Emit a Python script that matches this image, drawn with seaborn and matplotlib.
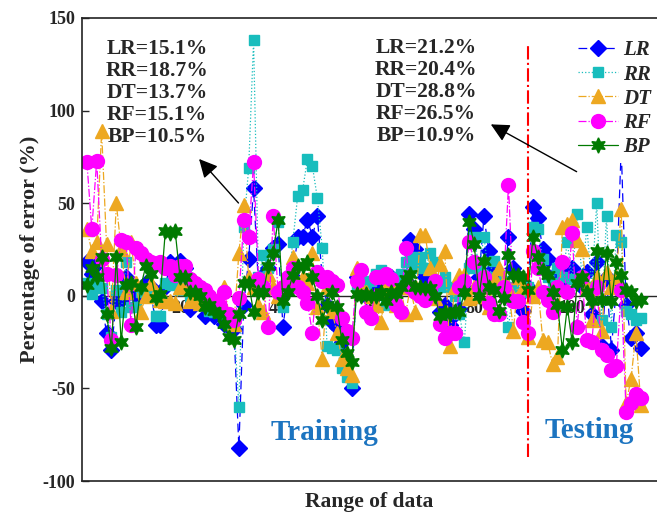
import numpy as np
import pandas as pd
import matplotlib
matplotlib.use("Agg")
import matplotlib.pyplot as plt
import seaborn as sns

# ---------------- data ----------------
sample = np.arange(1, 115)

lr = [18, 12, 17, -3, -20, -29, -3, -2, 10, 5, 0, 3, 7, 5, -16, -16, 5, 18, 15, 19,
      15, -7, 5, 0, -11, -5, -11, -5, -15, -17, -18, -82, -5, 20, 58, 5, 11, 15, 26, 28,
      -17, 5, 10, 32, 32, 41, 32, 43, 10, -5, -14, -17, -25, -35, -50, 10, 2, 0, 3, 2,
      5, 0, 10, 3, 5, 8, 30, 25, 15, 10, 5, 3, -9, -5, -16, -10, -7, 5, 44, 36,
      10, 43, 24, 15, 10, 5, 32, 15, 10, -8, 5, 48, 42, 25, 20, 10, 5, 8, 12, 15,
      12, 5, 13, -10, 18, -27, 10, -29, 5, 80, -5, -23, -20, -28]

rr = [7, 1, 6, 4, -10, -22, 3, -9, 18, -6, -6, 2, 2, 0, -11, -11, 7, 6, 7, 3,
      5, 0, 2, -3, -5, -8, -9, -6, -10, -15, -15, -60, 37, 69, 138, 10, 22, 15, 25, 40,
      -6, 5, 29, 54, 57, 74, 70, 53, 26, -27, -28, -29, -39, -44, -47, 5, 8, 2, 8, 12,
      14, -5, 8, 10, 12, 18, 21, 15, 21, 15, 23, 18, 5, 10, 5, 0, -10, -25, 15, 32,
      15, 32, 10, 19, 5, 8, -17, 5, 10, 2, 5, 37, 36, 20, 10, 7, 15, 10, 29, 9,
      44, 10, 37, 5, 50, -13, 43, -17, 33, 29, -8, -10, -13, -12]

dt = [36, 24, 29, 89, 28, -8, 50, 25, 2, 29, 7, -9, 0, 7, 2, -2, -3, -3, -4, 5,
      5, -3, 0, -4, 3, 0, -2, -5, 5, -10, -15, 23, 49, 10, 5, -5, -9, 12, 5, 0,
      5, 8, 21, 7, 10, 7, 23, -6, -34, 5, -8, -20, -34, -39, -43, 15, 5, 2, 0, -5,
      -14, 5, 8, -5, 5, -10, 5, -9, 33, 33, 15, -1, 17, 24, -27, 5, 11, 11, -1, 5,
      0, 5, -6, 10, 15, 8, 5, -19, 10, 5, -22, 0, 5, -24, -25, -37, -33, 37, 39, 41,
      30, 25, 5, -13, 10, -19, 13, 5, 10, 47, -58, -45, -20, -59]

rf = [72, 36, 73, 20, 12, -24, 11, 30, 29, -16, 26, 23, 20, 18, 17, 18, 15, 16, 11, 16,
      16, 9, 7, 5, 3, 0, -3, -5, 2, -10, -13, -1, 41, 32, 72, 9, 5, -17, 43, 2,
      5, 10, 15, 5, 2, -4, -20, 13, 8, 10, 8, 6, -12, -19, -23, 8, 14, -9, -12, 10,
      10, 12, 9, -5, -9, 26, 5, 2, 0, -2, 3, 8, -15, -23, -20, -20, 5, 8, 29, 18,
      5, 10, -4, -10, -10, 5, 60, -3, -3, -14, -20, 24, 15, 2, -2, -9, 5, 18, 2, 34,
      -17, 10, -24, -25, 5, -29, -32, -40, -38, 3, -63, -58, -53, -55]

bp = [6, 15, 10, 21, -10, -28, 21, -25, 6, 7, -17, 5, 16, 12, -1, 1, 35, 34, 35, 10,
      10, 2, 2, 0, -6, -5, -8, -10, -15, -22, -24, -10, 7, 7, -9, 2, 2, 16, 23, 41,
      -3, 2, 11, 16, 16, 18, 10, 0, -13, -5, 2, -6, -24, -31, -36, 1, 0, 1, 0, 0,
      2, -3, 2, 1, 5, 9, 12, 5, 5, 4, 4, 0, -11, -9, -10, -8, -9, 2, 40, 28,
      0, 19, 5, 3, -8, -1, 22, 11, 11, 10, 3, 32, 21, 14, 11, 2, -5, -29, -6, -25,
      7, 10, 2, -3, 24, -2, 23, -3, 18, 11, 3, 2, -3, -2]

series_names = ["LR", "RR", "DT", "RF", "BP"]
train_text = ["LR=15.1%", "RR=18.7%", "DT=13.7%", "RF=15.1%", "BP=10.5%"]
test_text = ["LR=21.2%", "RR=20.4%", "DT=28.8%", "RF=26.5%", "BP=10.9%"]
split_at = 91
xticks = [20, 40, 60, 80, 100]
yticks = [-100, -50, 0, 50, 100, 150]

df = pd.DataFrame({"Sample": sample, "LR": lr, "RR": rr, "DT": dt, "RF": rf, "BP": bp})

# ---------------- style ----------------
sns.set_style("ticks")
plt.rcParams["font.family"] = ["Liberation Serif", "DejaVu Serif"]
plt.rcParams["font.weight"] = "bold"
plt.rcParams["axes.labelweight"] = "bold"

fig = plt.figure(figsize=(6.57, 5.17), dpi=100)
ax = fig.add_axes([82 / 657, 36 / 517, 575 / 657, 463 / 517])

styles = {
    "LR": dict(color="#0000FF", marker="D", linestyle=(0, (7, 4)), ms=8),
    "RR": dict(color="#18BDBD", marker="s", linestyle=":", ms=7.5),
    "DT": dict(color="#EDA821", marker="^", linestyle="-.", ms=10),
    "RF": dict(color="#FF00FF", marker="o", linestyle="-.", ms=10),
    "BP": dict(color="#007A00", marker=(6, 1, 0), linestyle="-", ms=11),
}

for name in series_names:
    st = styles[name]
    sns.lineplot(data=df, x="Sample", y=name, ax=ax, color=st["color"],
                 marker=st["marker"], linestyle=st["linestyle"],
                 markersize=st["ms"], markeredgecolor=st["color"],
                 markeredgewidth=1, linewidth=0.9, label=name, legend=False)

ax.set_xlim(0, 117.3)
ax.set_ylim(-100, 150)
ax.set_yticks(yticks)
ax.set_yticklabels([str(t) for t in yticks], fontsize=13, fontweight="bold")
ax.tick_params(axis="y", direction="in", length=5, width=1, pad=5)
ax.set_xticks([])
for side in ["left", "top", "bottom"]:
    ax.spines[side].set_color("#222222")
    ax.spines[side].set_linewidth(1.2)
ax.spines["right"].set_visible(False)

sec = ax.secondary_xaxis(0.4)
sec.set_xticks(xticks)
sec.set_xticklabels([str(t) for t in xticks], fontsize=13, fontweight="bold")
sec.tick_params(axis="x", direction="in", length=4, pad=3)
sec.spines["bottom"].set_linewidth(1.0)

ax.set_ylabel("Percentage of error (%)", fontsize=16, fontweight="bold", labelpad=2)
ax.set_xlabel("Range of data", fontsize=15.5, fontweight="bold", labelpad=8)

# split line
ax.plot([split_at, split_at], [-87, 135], color="red", linestyle="-.", linewidth=1.5, zorder=3)

# annotation texts
ax.text(15.3, 109.5, "\n".join(train_text), ha="center", va="center",
        fontsize=15.5, fontweight="bold", linespacing=1.13)
ax.text(70.2, 110, "\n".join(test_text), ha="center", va="center",
        fontsize=15.5, fontweight="bold", linespacing=1.13)
ax.annotate("", xy=(23.5, 75), xytext=(32.3, 49),
            arrowprops=dict(arrowstyle="-|>", mutation_scale=28, color="black", lw=1))
ax.annotate("", xy=(82.9, 93.3), xytext=(101.4, 66.3),
            arrowprops=dict(arrowstyle="-|>", mutation_scale=28, color="black", lw=1))

ax.text(49.4, -74, "Training", ha="center", va="center", fontsize=21,
        fontweight="bold", color="#1C74C0")
ax.text(103.4, -73, "Testing", ha="center", va="center", fontsize=21,
        fontweight="bold", color="#1C74C0")

handles, labels = ax.get_legend_handles_labels()
leg = ax.legend(handles, labels, loc="upper right", bbox_to_anchor=(1.0, 0.965),
                prop={"style": "italic", "weight": "bold", "size": 15},
                handlelength=1.9, handletextpad=0.25, labelspacing=0.2,
                borderaxespad=0.0, borderpad=0.3, frameon=True, fancybox=False)
leg.get_frame().set_facecolor("white")
leg.get_frame().set_edgecolor("none")
leg.get_frame().set_alpha(1)

fig.savefig("out.png", dpi=100)
